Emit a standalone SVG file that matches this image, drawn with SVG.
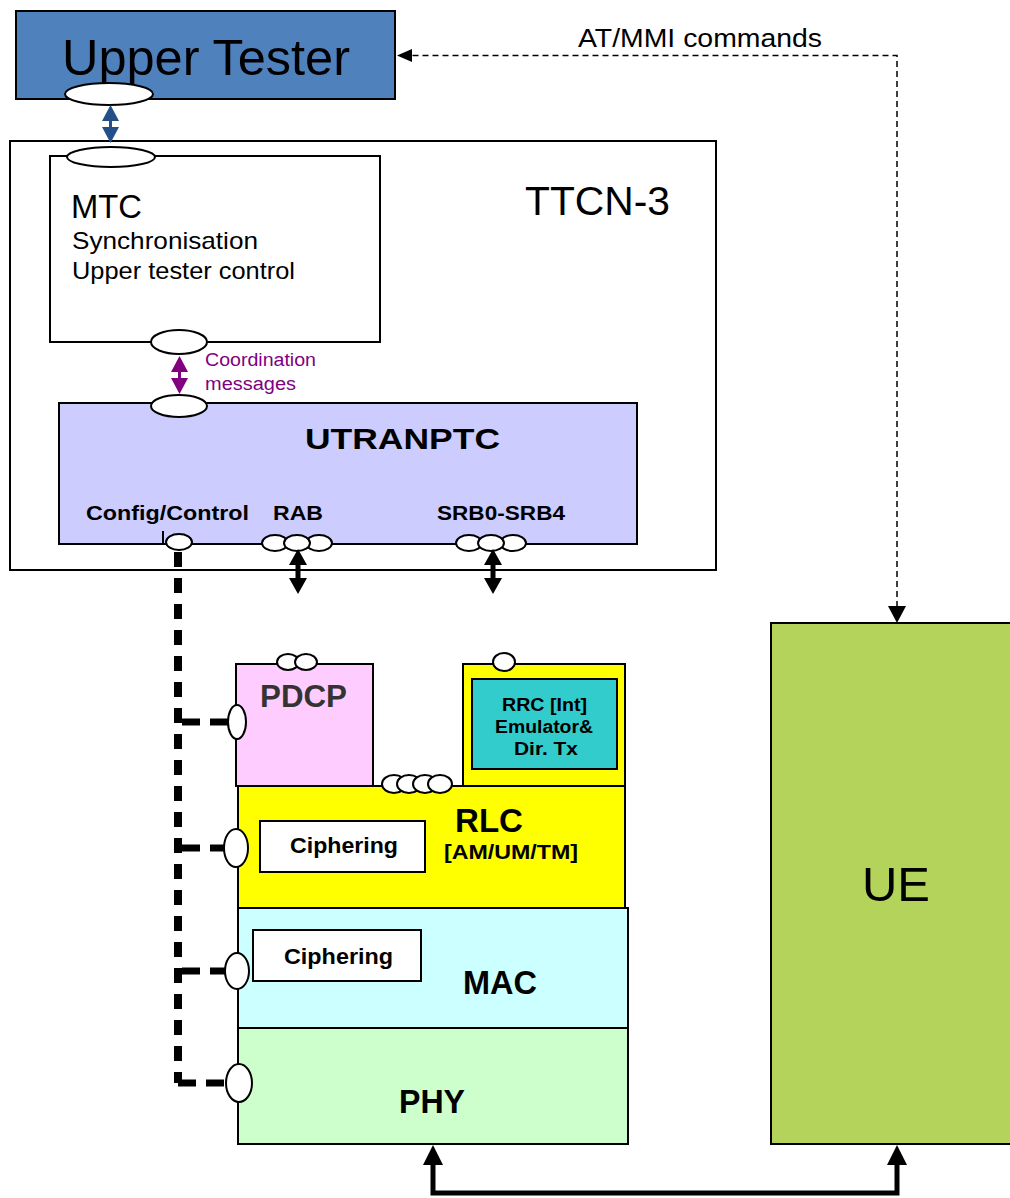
<svg xmlns="http://www.w3.org/2000/svg" width="1010" height="1198" viewBox="0 0 1010 1198">
<style>
.box{stroke:#000;stroke-width:2}
.port{fill:#fff;stroke:#000;stroke-width:2}
.t{font-family:"Liberation Sans",Arial,sans-serif;fill:#000}
.b{font-weight:bold}
.cfg{fill:none;stroke:#000;stroke-width:8;stroke-dasharray:15 11}
.cfgh{fill:none;stroke:#000;stroke-width:7;stroke-dasharray:18 10}
</style>
<rect x="0" y="0" width="1010" height="1198" fill="#fff"/>

<g id="ttcn3">
<rect class="box" x="10" y="141" width="706" height="429" fill="#fff"/>
<text class="t" x="525" y="215" font-size="40" textLength="145" lengthAdjust="spacingAndGlyphs">TTCN-3</text>
</g>

<g id="upper-tester">
<rect class="box" x="16" y="11" width="379" height="88" fill="#4F81BD"/>
<text class="t" x="62" y="75" font-size="50" textLength="288" lengthAdjust="spacingAndGlyphs">Upper Tester</text>
<ellipse class="port" cx="109" cy="94" rx="44" ry="11"/>
</g>

<g id="mtc">
<rect class="box" x="50" y="156" width="330" height="186" fill="#fff"/>
<ellipse class="port" cx="111" cy="157" rx="44" ry="10"/>
<text class="t" x="71" y="218" font-size="33" textLength="71" lengthAdjust="spacingAndGlyphs">MTC</text>
<text class="t" x="72" y="249" font-size="24" textLength="186" lengthAdjust="spacingAndGlyphs">Synchronisation</text>
<text class="t" x="72" y="279" font-size="24" textLength="223" lengthAdjust="spacingAndGlyphs">Upper tester control</text>
<ellipse class="port" cx="179" cy="342" rx="28" ry="12"/>
</g>

<g id="utranptc">
<rect class="box" x="59" y="403" width="578" height="141" fill="#CCCCFF"/>
<ellipse class="port" cx="179" cy="406" rx="28" ry="11"/>
<text class="t b" x="305" y="449" font-size="30" textLength="195" lengthAdjust="spacingAndGlyphs">UTRANPTC</text>
<text class="t b" x="86" y="520" font-size="21" textLength="163" lengthAdjust="spacingAndGlyphs">Config/Control</text>
<text class="t b" x="273" y="520" font-size="21" textLength="50" lengthAdjust="spacingAndGlyphs">RAB</text>
<text class="t b" x="437" y="520" font-size="21" textLength="128" lengthAdjust="spacingAndGlyphs">SRB0-SRB4</text>
<line x1="163" y1="531" x2="163" y2="543" stroke="#000" stroke-width="2"/>
<ellipse class="port" cx="179" cy="542" rx="13" ry="8"/>
<ellipse class="port" cx="275" cy="543" rx="13" ry="8"/>
<ellipse class="port" cx="319" cy="543" rx="13" ry="8"/>
<ellipse class="port" cx="297" cy="543" rx="13" ry="8"/>
<ellipse class="port" cx="469" cy="543" rx="13" ry="8"/>
<ellipse class="port" cx="513" cy="543" rx="13" ry="8"/>
<ellipse class="port" cx="491" cy="543" rx="13" ry="8"/>
</g>

<g id="pdcp">
<rect class="box" x="236" y="664" width="137" height="122" fill="#FFCCFF"/>
<ellipse class="port" cx="288" cy="662" rx="11" ry="8"/>
<ellipse class="port" cx="306" cy="662" rx="11" ry="8"/>
<text class="t b" x="260" y="707" font-size="32" style="fill:#333" textLength="87" lengthAdjust="spacingAndGlyphs">PDCP</text>
<ellipse class="port" cx="237" cy="722" rx="9" ry="17"/>
</g>

<g id="rrc">
<rect class="box" x="463" y="664" width="162" height="122" fill="#FFFF00"/>
<ellipse class="port" cx="504" cy="662" rx="11" ry="9"/>
<rect class="box" x="472" y="679" width="145" height="90" fill="#33CCCC"/>
<text class="t b" x="502" y="711" font-size="18" textLength="85" lengthAdjust="spacingAndGlyphs">RRC [Int]</text>
<text class="t b" x="495" y="733" font-size="18" textLength="98" lengthAdjust="spacingAndGlyphs">Emulator&amp;</text>
<text class="t b" x="514" y="755" font-size="18" textLength="64" lengthAdjust="spacingAndGlyphs">Dir. Tx</text>
</g>

<g id="rlc">
<rect class="box" x="238" y="786" width="387" height="122" fill="#FFFF00"/>
<ellipse class="port" cx="394" cy="784" rx="12" ry="9"/>
<ellipse class="port" cx="409" cy="784" rx="12" ry="9"/>
<ellipse class="port" cx="425" cy="784" rx="12" ry="9"/>
<ellipse class="port" cx="440" cy="784" rx="12" ry="9"/>
<rect class="box" x="260" y="821" width="165" height="51" fill="#fff"/>
<text class="t b" x="290" y="853" font-size="22" textLength="108" lengthAdjust="spacingAndGlyphs">Ciphering</text>
<text class="t b" x="455" y="832" font-size="34" textLength="68" lengthAdjust="spacingAndGlyphs">RLC</text>
<text class="t b" x="444" y="859" font-size="21" textLength="134" lengthAdjust="spacingAndGlyphs">[AM/UM/TM]</text>
<ellipse class="port" cx="236" cy="848" rx="12" ry="19"/>
</g>

<g id="mac">
<rect class="box" x="238" y="908" width="390" height="120" fill="#CCFFFF"/>
<rect class="box" x="253" y="930" width="168" height="51" fill="#fff"/>
<text class="t b" x="284" y="964" font-size="22" textLength="109" lengthAdjust="spacingAndGlyphs">Ciphering</text>
<text class="t b" x="463" y="994" font-size="33" textLength="74" lengthAdjust="spacingAndGlyphs">MAC</text>
<ellipse class="port" cx="237" cy="971" rx="12" ry="18"/>
</g>

<g id="phy">
<rect class="box" x="238" y="1028" width="390" height="116" fill="#CCFFCC"/>
<text class="t b" x="399" y="1113" font-size="33" textLength="66" lengthAdjust="spacingAndGlyphs">PHY</text>
<ellipse class="port" cx="239" cy="1083" rx="13" ry="19"/>
</g>

<g id="ue">
<rect class="box" x="771" y="623" width="260" height="521" fill="#B3D35A"/>
<text class="t" x="862" y="901" font-size="48" textLength="68" lengthAdjust="spacingAndGlyphs">UE</text>
</g>

<g id="connectors">
<line x1="110.5" y1="118" x2="110.5" y2="131" stroke="#24508A" stroke-width="3"/>
<polygon points="110.5,105 102,121 119,121" fill="#24508A"/>
<polygon points="110.5,143 102,127 119,127" fill="#24508A"/>
<line x1="179.5" y1="370" x2="179.5" y2="380" stroke="#800080" stroke-width="3"/>
<polygon points="179.5,356 171,372 188,372" fill="#800080"/>
<polygon points="179.5,394 171,378 188,378" fill="#800080"/>
<text class="t" x="205" y="366" font-size="18" style="fill:#800080" textLength="111" lengthAdjust="spacingAndGlyphs">Coordination</text>
<text class="t" x="205" y="390" font-size="18" style="fill:#800080" textLength="91" lengthAdjust="spacingAndGlyphs">messages</text>
<line x1="298" y1="560" x2="298" y2="582" stroke="#000" stroke-width="5"/>
<polygon points="298,549 289,565 307,565" fill="#000"/>
<polygon points="298,594 289,578 307,578" fill="#000"/>
<line x1="493" y1="560" x2="493" y2="582" stroke="#000" stroke-width="5"/>
<polygon points="493,549 484,565 502,565" fill="#000"/>
<polygon points="493,594 484,578 502,578" fill="#000"/>
<path class="cfg" d="M178 552 V1083"/>
<path class="cfgh" d="M178 1083 H227"/>
<path class="cfgh" d="M182 722 H228"/>
<path class="cfgh" d="M182 848 H224"/>
<path class="cfgh" d="M182 971 H225"/>
<path d="M897 607 V55.5 H410" fill="none" stroke="#000" stroke-width="1.5" stroke-dasharray="6 4"/>
<polygon points="397,55.5 412,49 412,62" fill="#000"/>
<polygon points="897,623 888,606 906,606" fill="#000"/>
<text class="t" x="578" y="47" font-size="26" textLength="244" lengthAdjust="spacingAndGlyphs">AT/MMI commands</text>
<path d="M433 1162 V1193 H897 V1162" fill="none" stroke="#000" stroke-width="5"/>
<polygon points="433,1145 423,1165 443,1165" fill="#000"/>
<polygon points="897,1145 887,1165 907,1165" fill="#000"/>
</g>
</svg>
